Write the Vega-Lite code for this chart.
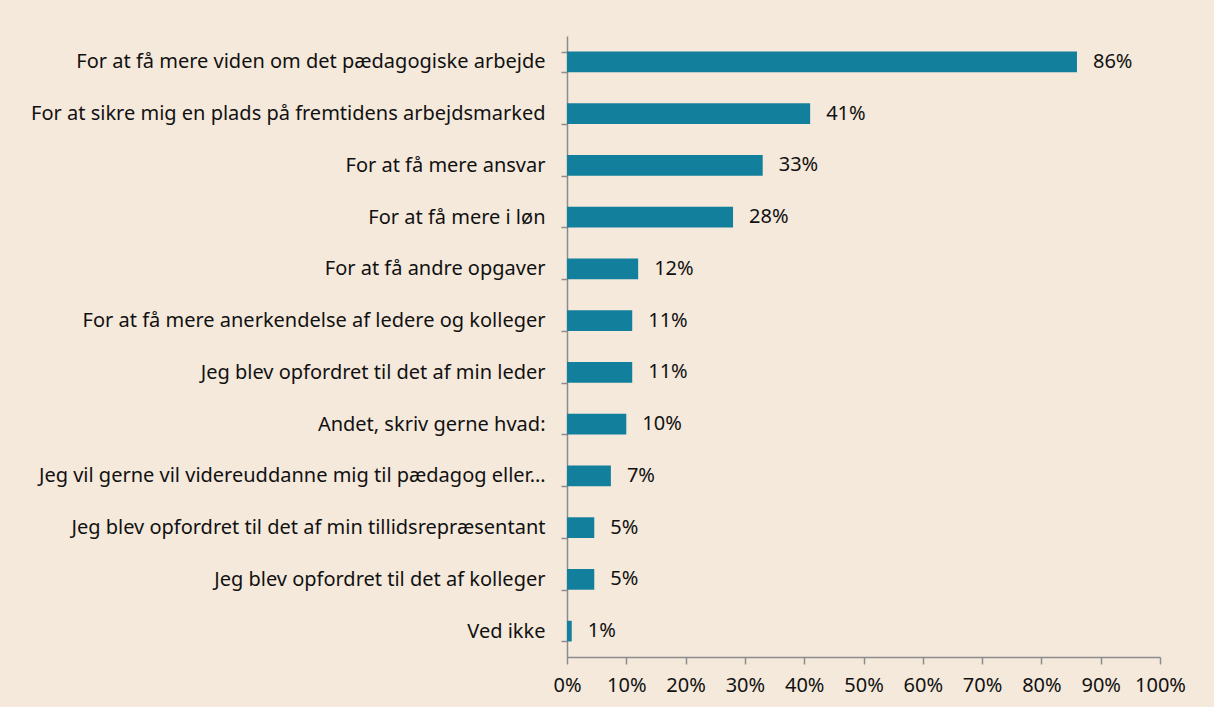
{
  "$schema": "https://vega.github.io/schema/vega-lite/v6.json",
  "autosize": "none",
  "width": 593,
  "height": 621,
  "padding": {"left": 567, "top": 36, "right": 54, "bottom": 50},
  "background": "#F5E9DC",
  "config": {
    "view": {"stroke": null},
    "font": "Noto Sans",
    "axis": {"grid": false, "domainColor": "#8C8C8C", "tickColor": "#8C8C8C", "domainWidth": 1.5, "tickWidth": 1.5, "labelColor": "#111111", "labelFont": "Noto Sans", "labelFontSize": 20, "title": null}
  },
  "data": {"values": [
    {"reason": "For at få mere viden om det pædagogiske arbejde", "value": 0.86},
    {"reason": "For at sikre mig en plads på fremtidens arbejdsmarked", "value": 0.41},
    {"reason": "For at få mere ansvar", "value": 0.33},
    {"reason": "For at få mere i løn", "value": 0.28},
    {"reason": "For at få andre opgaver", "value": 0.12},
    {"reason": "For at få mere anerkendelse af ledere og kolleger", "value": 0.11},
    {"reason": "Jeg blev opfordret til det af min leder", "value": 0.11},
    {"reason": "Andet, skriv gerne hvad:", "value": 0.10},
    {"reason": "Jeg vil gerne vil videreuddanne mig til pædagog eller…", "value": 0.074},
    {"reason": "Jeg blev opfordret til det af min tillidsrepræsentant", "value": 0.046},
    {"reason": "Jeg blev opfordret til det af kolleger", "value": 0.046},
    {"reason": "Ved ikke", "value": 0.008}
  ]},
  "encoding": {
    "y": {"field": "reason", "type": "nominal", "sort": null,
      "scale": {"paddingInner": 0.6, "paddingOuter": 0.3},
      "axis": {"tickBand": "extent", "tickSize": 6, "labelPadding": 16, "labelLimit": 700}},
    "x": {"field": "value", "type": "quantitative",
      "scale": {"domain": [0, 1], "nice": false},
      "axis": {"format": ".0%", "values": [0,0.1,0.2,0.3,0.4,0.5,0.6,0.7,0.8,0.9,1], "labelOverlap": false, "labelFlush": false, "tickSize": 7, "labelPadding": 11}}
  },
  "layer": [
    {"mark": {"type": "bar", "color": "#127F9D"}},
    {"mark": {"type": "text", "align": "left", "dx": 16, "fontSize": 20, "color": "#111111"},
     "encoding": {"text": {"field": "value", "type": "quantitative", "format": ".0%"}}}
  ]
}
